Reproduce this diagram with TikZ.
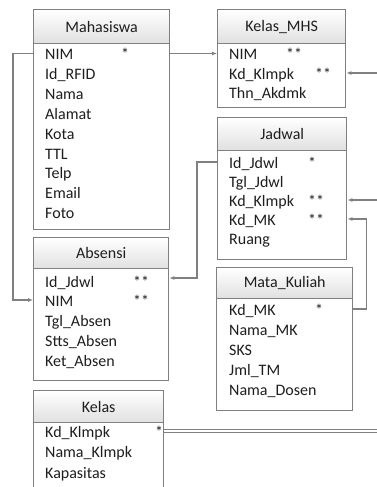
\documentclass[tikz,border=0pt]{standalone}
\usepackage{fontspec}
\setmainfont{Carlito}
\usetikzlibrary{arrows.meta}
\definecolor{lineg}{RGB}{128,128,128}
\definecolor{headg}{RGB}{224,224,224}
\definecolor{textg}{RGB}{30,30,30}

\begin{document}
\begin{tikzpicture}[x=1pt, y=-1pt,
        box/.style={draw=lineg, line width=1.4pt, anchor=north west, inner sep=0pt},
        head/.style={box, top color=white, bottom color=headg, text=textg, font=\fontsize{16}{19}\selectfont},
        body/.style={box, fill=white},
        field/.style={anchor=base west, inner sep=0pt, text height=12pt, text depth=0pt, text=textg, font=\fontsize{16}{19}\selectfont},
        link/.style={draw=lineg, line width=1.1pt, -{Latex[length=5pt, width=4pt]}},
        dbl/.style={draw=lineg, line width=0.9pt, double=white, double distance=1.4pt}]

    \useasboundingbox[fill=white] (0,0) rectangle (376,487);

    \begin{scope}
        \node[body, minimum width=136pt, minimum height=186pt] (mhB) at (33,43) {};
        \node[head, minimum width=136pt, minimum height=34pt] (mh) at (33,9) {Mahasiswa};
        \node[field] (mh1) at (45,59.5) {NIM};
        \node[field] (mh1k) at (121,59.5) {*};
        \node[field] (mh2) at (45,79.8) {Id\_RFID};
        \node[field] (mh3) at (45,99.6) {Nama};
        \node[field] (mh4) at (45,119.4) {Alamat};
        \node[field] (mh5) at (45,139.2) {Kota};
        \node[field] (mh6) at (45,159) {TTL};
        \node[field] (mh7) at (45,178.8) {Telp};
        \node[field] (mh8) at (45,198.6) {Email};
        \node[field] (mh9) at (45,218.4) {Foto};

        \node[body, minimum width=128pt, minimum height=64pt] (kmB) at (217,43) {};
        \node[head, minimum width=128pt, minimum height=34pt] (km) at (217,9) {Kelas\_MHS};
        \node[field] (km1) at (229,59.5) {NIM};
        \node[field] (km1k) at (286,59.5) {**};
        \node[field] (km2) at (229,79) {Kd\_Klmpk};
        \node[field] (km2k) at (315,79) {**};
        \node[field] (km3) at (229,99) {Thn\_Akdmk};

        \node[body, minimum width=129pt, minimum height=109pt] (jdB) at (217,150) {};
        \node[head, minimum width=129pt, minimum height=33pt] (jd) at (217,117) {Jadwal};
        \node[field] (jd1) at (229,168) {Id\_Jdwl};
        \node[field] (jd1k) at (308,168) {*};
        \node[field] (jd2) at (229,187) {Tgl\_Jdwl};
        \node[field] (jd3) at (229,206) {Kd\_Klmpk};
        \node[field] (jd3k) at (308,206) {**};
        \node[field] (jd4) at (229,225) {Kd\_MK};
        \node[field] (jd4k) at (308,225) {**};
        \node[field] (jd5) at (229,244) {Ruang};

        \node[body, minimum width=135pt, minimum height=112pt] (abB) at (33,268) {};
        \node[head, minimum width=135pt, minimum height=31pt] (ab) at (33,237) {Absensi};
        \node[field] (ab1) at (45,287) {Id\_Jdwl};
        \node[field] (ab1k) at (133,287) {**};
        \node[field] (ab2) at (45,306) {NIM};
        \node[field] (ab2k) at (133,306) {**};
        \node[field] (ab3) at (45,326) {Tgl\_Absen};
        \node[field] (ab4) at (45,346) {Stts\_Absen};
        \node[field] (ab5) at (45,366) {Ket\_Absen};

        \node[body, minimum width=136pt, minimum height=112pt] (mkB) at (216,298) {};
        \node[head, minimum width=136pt, minimum height=31pt] (mk) at (216,267) {Mata\_Kuliah};
        \node[field] (mk1) at (229,315) {Kd\_MK};
        \node[field] (mk1k) at (315,315) {*};
        \node[field] (mk2) at (229,335) {Nama\_MK};
        \node[field] (mk3) at (229,355) {SKS};
        \node[field] (mk4) at (229,375) {Jml\_TM};
        \node[field] (mk5) at (229,395) {Nama\_Dosen};

        \node[body, minimum width=130pt, minimum height=100pt] (klB) at (33,422) {};
        \node[head, minimum width=130pt, minimum height=32pt] (kl) at (33,390) {Kelas};
        \node[field] (kl1) at (45,437) {Kd\_Klmpk};
        \node[field] (kl1k) at (155,437) {*};
        \node[field] (kl2) at (45,457) {Nama\_Klmpk};
        \node[field] (kl3) at (45,478) {Kapasitas};
    \end{scope}

    \coordinate (edge) at (380,0);

    \path[link] (mhB.east |- mh1) -- (kmB.west |- km1);
    \path[link] (mhB.west |- mh1) -- ++(-20,0) |- (abB.west |- ab2);
    \path[link] (jdB.west |- jd1) -- ++(-20,0) |- ([yshift=3pt]abB.east |- ab1);
    \path[link] (mkB.east |- mk1) -- ++(13,0) |- (jdB.east |- jd4);
    \path[link] (edge |- km2) -- (kmB.east |- km2);
    \path[link] (edge |- jd3) -- (jdB.east |- jd3);
    \path[dbl] (klB.east |- kl1) -- (edge |- kl1);

\end{tikzpicture}
\end{document}
